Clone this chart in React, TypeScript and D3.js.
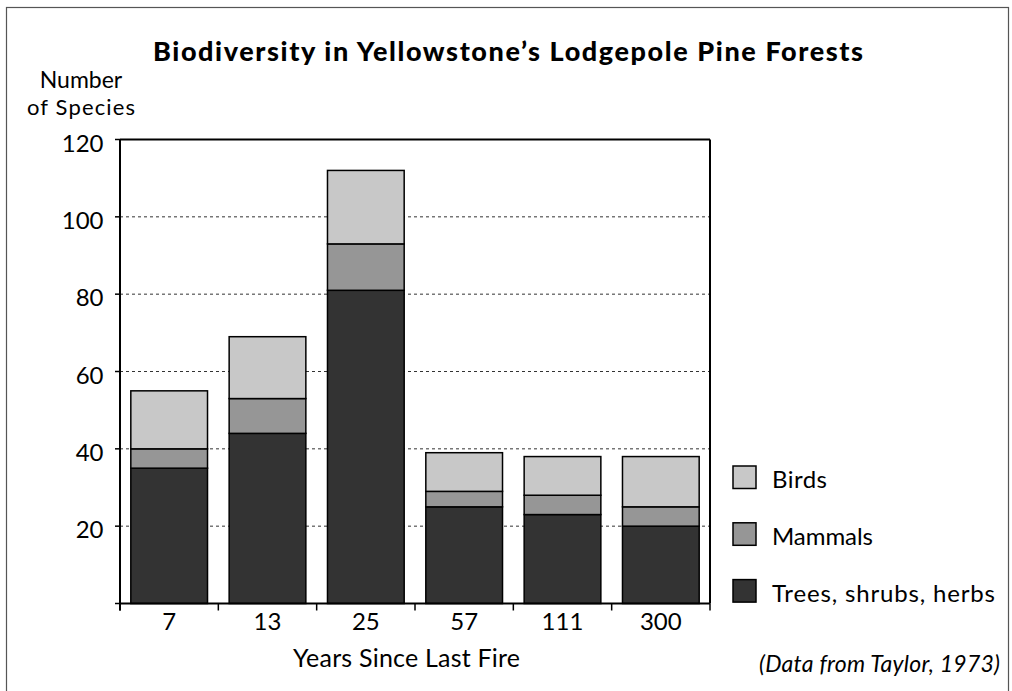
import React from 'react';
import * as d3 from 'd3';

// years since last fire
const years = ['7', '13', '25', '57', '111', '300'];
// species counts per group
const trees = [35, 44, 81, 25, 23, 20];
const mammals = [5, 9, 12, 4, 5, 5];
const birds = [15, 16, 19, 10, 10, 13];

const seriesNames = ['Trees, shrubs, herbs', 'Mammals', 'Birds'];
const seriesColors = ['#333333', '#969696', '#c8c8c8'];
const yTicks = [0, 20, 40, 60, 80, 100, 120];

const FONT = 'Lato, "DejaVu Sans", sans-serif';

// widths of the legend labels, to get closer to the original (Gill Sans) look
const legendWidths: Record<string, number> = { Birds: 55, Mammals: 101, 'Trees, shrubs, herbs': 223 };

export default function App() {
  const width = 1012;
  const height = 691;
  const margin = { top: 139.5, right: 302, bottom: 87.5, left: 120 };
  const x0 = margin.left;
  const x1 = width - margin.right;
  const y0 = height - margin.bottom;
  const y1 = margin.top;

  const rows = years.map((yr, i) => ({
    year: yr,
    [seriesNames[0]]: trees[i],
    [seriesNames[1]]: mammals[i],
    [seriesNames[2]]: birds[i],
  }));

  const stack = d3.stack<any>().keys(seriesNames);
  const layers = stack(rows);

  const x = d3.scaleBand().domain(years).range([x0, x1]).paddingInner(0.22).paddingOuter(0.11);
  const y = d3.scaleLinear().domain([0, 120]).range([y0, y1]);
  const color = d3.scaleOrdinal<string>().domain(seriesNames).range(seriesColors);

  // tick marks between bars on the x axis
  const xBoundaries = years.map((_, i) => x0 + x.step() * i).concat([x1]);

  const legendOrder = ['Birds', 'Mammals', 'Trees, shrubs, herbs'];

  return (
    <svg width={width} height={height} style={{ position: 'absolute', left: 0, top: 0, display: 'block' }}>
      <rect x={0} y={0} width={width} height={height} fill="#fff" />
      <rect x={6.5} y={7.5} width={1002} height={700} fill="none" stroke="#555" strokeWidth={1.2} />

      <text x={153} y={61} textLength={710} lengthAdjust="spacing" fontFamily={FONT} fontWeight="900" fontSize={27}>
        Biodiversity in Yellowstone’s Lodgepole Pine Forests
      </text>
      <text x={81} y={88} textAnchor="middle" fontFamily={FONT} fontSize={23}>Number</text>
      <text x={27} y={115} textLength={108} fontFamily={FONT} fontSize={22}>of Species</text>

      {/* gridlines */}
      {yTicks.filter(t => t > 0 && t < 120).map(t => (
        <line key={t} x1={x0} x2={x1} y1={y(t)} y2={y(t)} stroke="#333" strokeWidth={1} strokeDasharray="3,3" />
      ))}

      {/* bars */}
      {layers.map(layer => (
        <g key={layer.key}>
          {layer.map((d, i) => (
            <rect
              key={i}
              x={x(years[i])}
              y={y(d[1])}
              width={x.bandwidth()}
              height={y(d[0]) - y(d[1])}
              fill={color(layer.key)}
              stroke="#000"
              strokeWidth={1.5}
            />
          ))}
        </g>
      ))}

      {/* plot frame */}
      <line x1={x0} x2={x1} y1={y1} y2={y1} stroke="#000" strokeWidth={2} />
      <line x1={x1} x2={x1} y1={y1} y2={y0} stroke="#000" strokeWidth={2} />
      <line x1={x0} x2={x1} y1={y0} y2={y0} stroke="#000" strokeWidth={2} />
      <line x1={x0} x2={x0} y1={y1} y2={y0 + 7} stroke="#000" strokeWidth={2} />

      {/* y axis */}
      {yTicks.map(t => (
        <g key={t}>
          <line x1={x0 - 5} x2={x0} y1={y(t)} y2={y(t)} stroke="#000" strokeWidth={1.5} />
          {t > 0 && (
            <text x={103.5} y={y(t) + 12} textAnchor="end" fontFamily={FONT} fontSize={24}>{t}</text>
          )}
        </g>
      ))}

      {/* x axis */}
      {xBoundaries.map((bx, i) => (
        <line key={i} x1={bx} x2={bx} y1={y0} y2={y0 + 7} stroke="#000" strokeWidth={1.5} />
      ))}
      {years.map(yr => (
        <text key={yr} x={(x(yr) as number) + x.bandwidth() / 2} y={630} textAnchor="middle" fontFamily={FONT} fontSize={24}>
          {yr}
        </text>
      ))}
      <text x={293} y={667} textLength={227} fontFamily={FONT} fontSize={25}>Years Since Last Fire</text>

      {/* legend */}
      {legendOrder.map((name, i) => (
        <g key={name} transform={`translate(733,${466 + i * 56.8})`}>
          <rect x={0} y={0} width={23} height={22.5} fill={color(name)} stroke="#000" strokeWidth={1.5} />
          <text x={39} y={22} textLength={legendWidths[name]} fontFamily={FONT} fontSize={24}>{name}</text>
        </g>
      ))}

      <text x={759} y={672} textLength={241} fontFamily={FONT} fontStyle="italic" fontSize={23}>
        (Data from Taylor, 1973)
      </text>
    </svg>
  );
}
